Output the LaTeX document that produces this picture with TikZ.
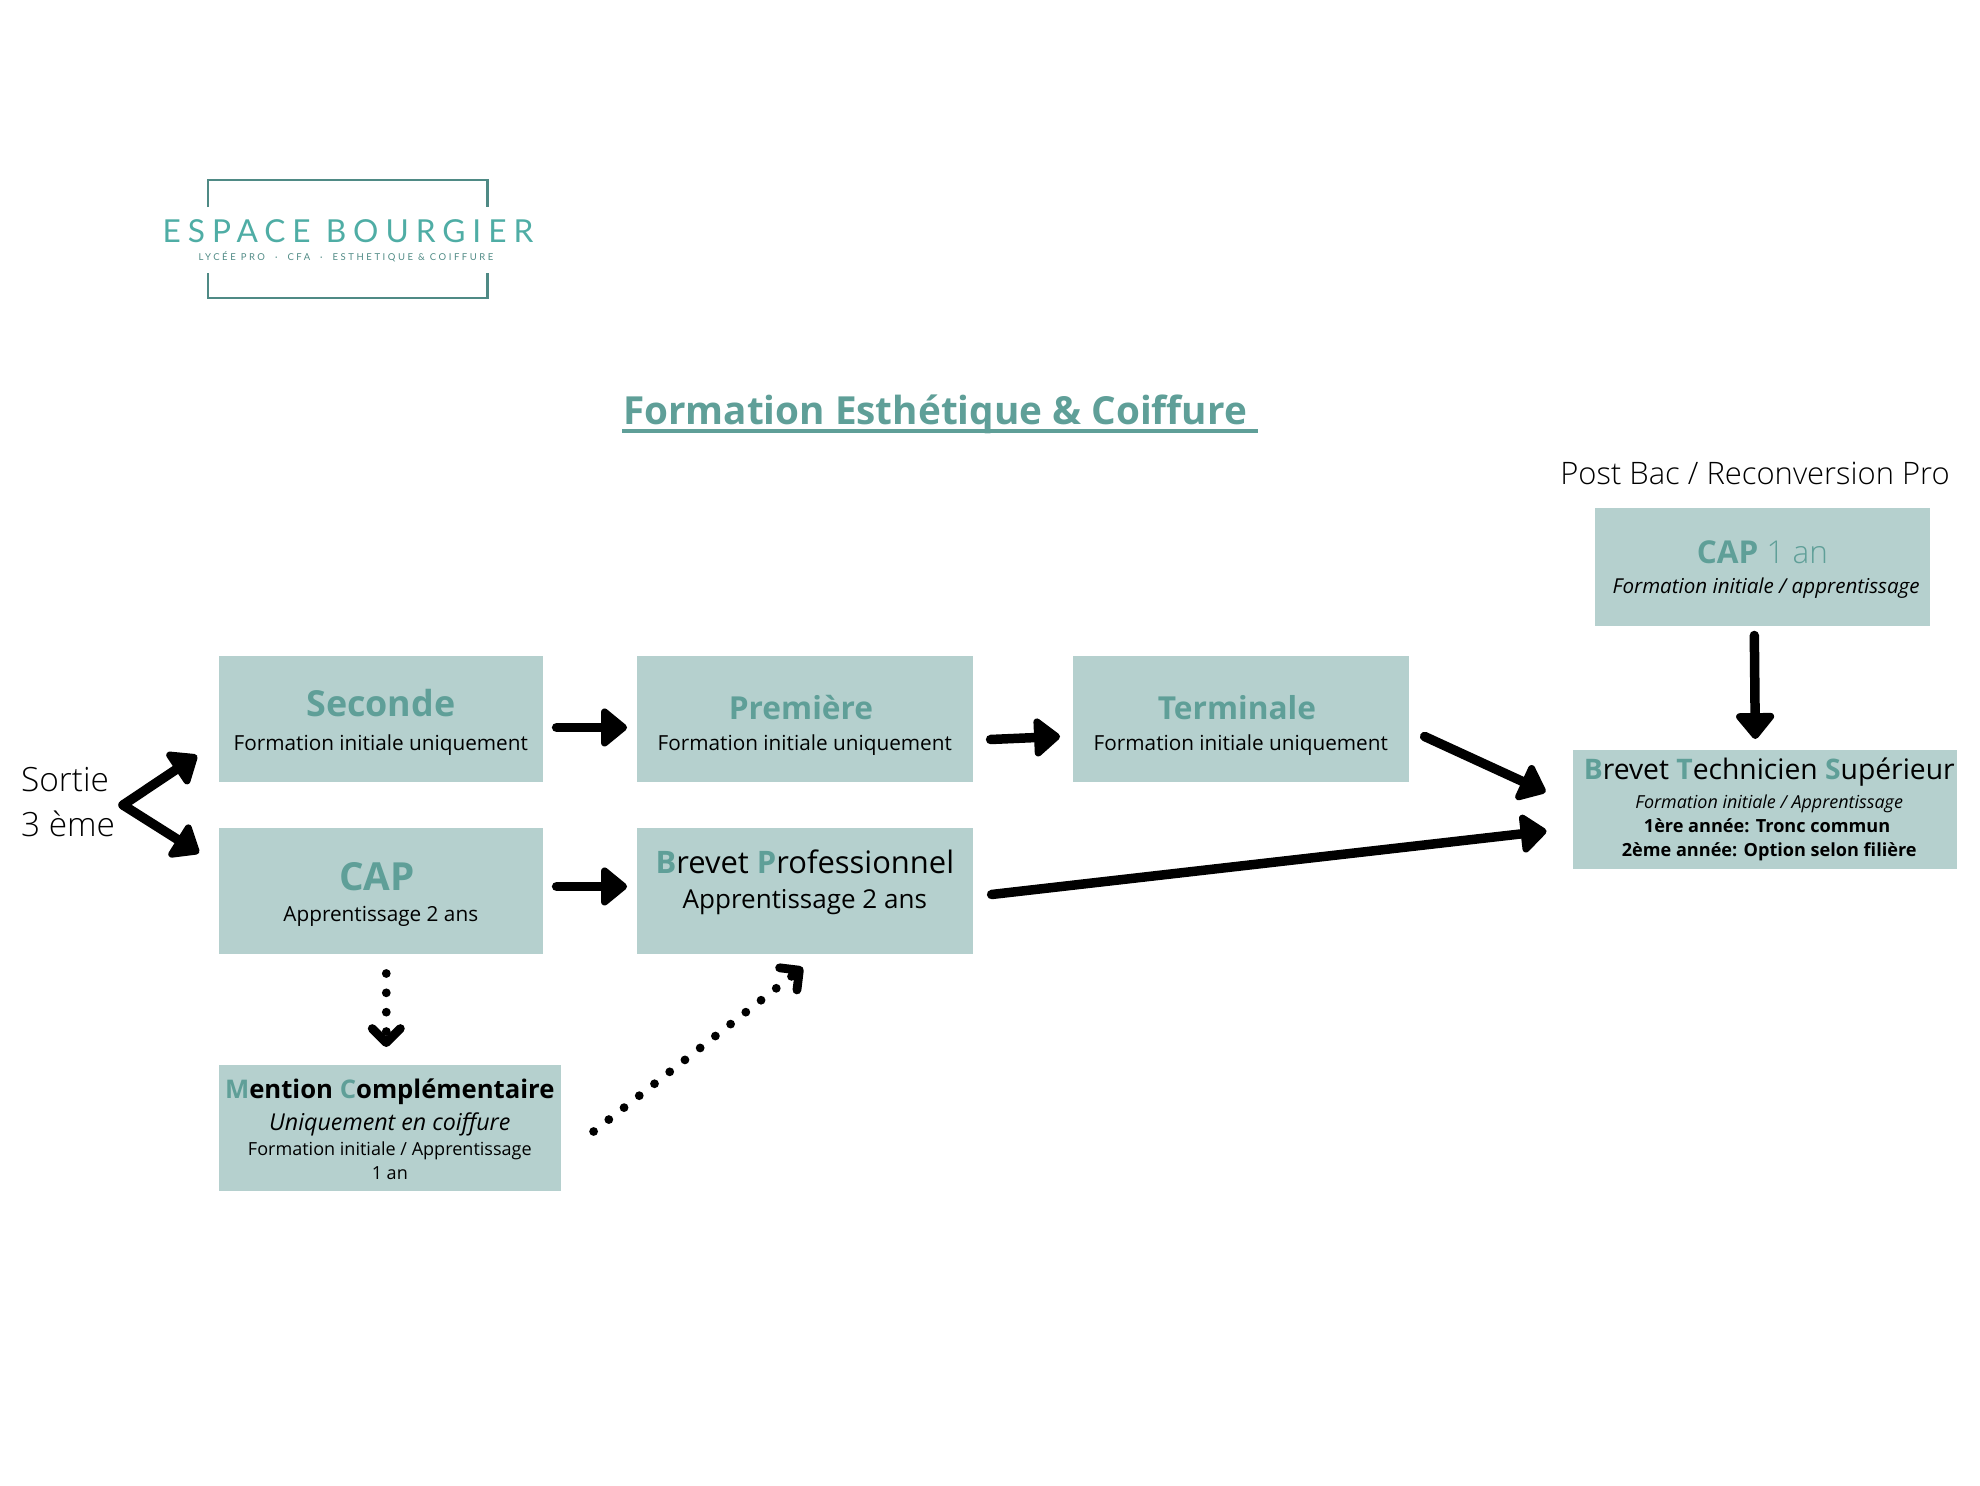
\documentclass[tikz,border=0pt]{standalone}
\usepackage{fontspec}
\setmainfont{Open Sans}
\newfontfamily\logofont{Lato}
\newfontfamily\lightfont{Open Sans Light}
\usetikzlibrary{arrows.meta}
\definecolor{boxgreen}{HTML}{B5D0CE}
\definecolor{titlegreen}{HTML}{5F9F98}
\definecolor{logoteal}{HTML}{4FADA5}
\definecolor{logoframe}{HTML}{4F8A85}
\newcommand{\tg}[1]{\textcolor{titlegreen}{\textbf{#1}}}
\newcommand{\sz}[1]{\fontsize{#1}{0pt}\selectfont}
\newcommand{\lift}[1]{\rule{0pt}{#1}}
\setlength{\lineskiplimit}{-1000pt}
\tikzset{
	formbox/.style={fill=boxgreen,anchor=north west,align=center,inner sep=0pt,text=black,font=\sz{6}},
	flow/.style={line width=2.7pt,line cap=round,-{Triangle[round,length=8pt,width=12.5pt]}},
	dotflow/.style={line width=2.5pt,line cap=round,dash pattern=on 0pt off 5.5pt,-{Straight Barb[round,length=4pt,width=8pt]}},
}
\begin{document}
\begin{tikzpicture}[x=0.01cm,y=-0.01cm]
	\useasboundingbox (0,0) rectangle (1980,1485);
	% logo
	\draw[logoframe,line width=0.85pt] (208,207) |- (487,180) -- (487,207);
	\draw[logoframe,line width=0.85pt] (208,273) |- (487,298) -- (487,273);
	\node[text=logoteal,font=\logofont\fontsize{9}{9}\selectfont\addfontfeature{LetterSpace=22}] (espace)at(348,231) {ESPACE BOURGIER};
	\node[text=logoframe,font=\logofont\fontsize{2.7}{3}\selectfont\addfontfeature{LetterSpace=27}] (lycee)at(346,257) {LYCÉE PRO\ \ ·\ \ CFA\ \ ·\ \ ESTHETIQUE \& COIFFURE};
	% title
	\node[text=titlegreen,font=\bfseries\fontsize{11}{13}\selectfont,inner sep=0pt] (title)at(940,414) {Formation Esthétique \& Coiffure\ \mbox{}};
	\draw[titlegreen,line width=1pt] ([shift={(0,-3)}]title.south west) -- ([shift={(0,-3)}]title.south east);
	% free text
	\node[font=\lightfont\fontsize{9.5}{13}\selectfont,align=left,inner sep=0pt] (sortie)at(68,802) {Sortie\\3 ème};
	\node[font=\lightfont\fontsize{8.8}{11}\selectfont,inner sep=0pt] (postbac)at(1755,473) {Post Bac / Reconversion Pro};
	% boxes
	\node[formbox,minimum width=3.24cm,minimum height=1.26cm] (seconde)at(218,655) {\lift{9.6pt}{\sz{10.2}\tg{Seconde}}\\[9.7pt]{\sz{5.9}Formation initiale uniquement}};
	\node[formbox,minimum width=3.36cm,minimum height=1.26cm] (premiere)at(636,655) {\lift{10.6pt}{\sz{9}\tg{Première}\kern2.2pt}\\[9pt]{\sz{5.9}Formation initiale uniquement}};
	\node[formbox,minimum width=3.36cm,minimum height=1.26cm] (terminale)at(1072,655) {\lift{10.6pt}{\sz{9}\tg{Terminale}\kern2.2pt}\\[9pt]{\sz{5.9}Formation initiale uniquement}};
	\node[formbox,minimum width=3.24cm,minimum height=1.26cm] (cap)at(218,827) {\lift{10.1pt}{\sz{11}\tg{CAP}\kern2.2pt}\\[9pt]{\sz{5.9}Apprentissage 2 ans}};
	\node[formbox,minimum width=3.36cm,minimum height=1.26cm] (bp)at(636,827) {{\sz{8.8}\tg{B}revet \tg{P}rofessionnel}\\[10pt]{\sz{7.4}Apprentissage 2 ans}\\[6.7pt]\mbox{}};
	\node[formbox,minimum width=3.42cm,minimum height=1.26cm] (mention)at(218,1064) {\lift{6.6pt}{\sz{7.3}\tg{M}\textbf{ention} \tg{C}\textbf{omplémentaire}}\\[9pt]{\sz{6.6}\itshape Uniquement en coiffure}\\[7.2pt]{\sz{5.13}Formation initiale / Apprentissage}\\[6.8pt]{\sz{5.13}1 an}};
	\node[formbox,minimum width=3.35cm,minimum height=1.18cm] (capun)at(1594,507) {\lift{8pt}{\sz{8.95}\textcolor{titlegreen}{\textbf{CAP} {\lightfont 1 an}}}\\[8.4pt]{\sz{5.85}\itshape\kern2.2pt Formation initiale / apprentissage}};
	\node[formbox,minimum width=3.84cm,minimum height=1.19cm] (bts)at(1572.5,749) {{\sz{8.04}\kern2.2pt\tg{B}revet \tg{T}echnicien \tg{S}upérieur}\\[8.2pt]{\sz{5.1}\itshape\kern2.2pt Formation initiale / Apprentissage}\\[6.8pt]{\sz{5.15}\bfseries\kern1pt 1ère année: Tronc commun}\\[6.8pt]{\sz{5.15}\bfseries\kern2.2pt 2ème année: Option selon filière}};
	% connectors
	\coordinate (split)at(123,805);
	\draw[flow] (split) -- ([shift={(-21,-27)}]seconde.south west);
	\draw[flow] (split) -- ([shift={(-19,26)}]cap.north west);
	\draw[flow] ([shift={(13,-55)}]seconde.south east) -- ([shift={(-9,-55)}]premiere.south west);
	\draw[flow] ([shift={(17,-43)}]premiere.south east) -- ([shift={(-12,-46)}]terminale.south west);
	\draw[flow] ([shift={(15,-46)}]terminale.south east) -- ([shift={(-27,43)}]bts.north west);
	\draw[flow] ([shift={(13,-68)}]cap.south east) -- ([shift={(-9,-68)}]bp.south west);
	\draw[flow] ([shift={(18,-60)}]bp.south east) -- ([shift={(-26,82)}]bts.north west);
	\draw[flow] ([shift={(-8,9)}]capun.south) -- ([shift={(-10,-10)}]bts.north);
	\draw[dotflow] ([shift={(5.5,19)}]cap.south) -- ([shift={(-3.5,-17)}]mention.north);
	\draw[dotflow] ([shift={(32,-60)}]mention.south east) -- ([shift={(-2,13)}]bp.south);
\end{tikzpicture}
\end{document}
